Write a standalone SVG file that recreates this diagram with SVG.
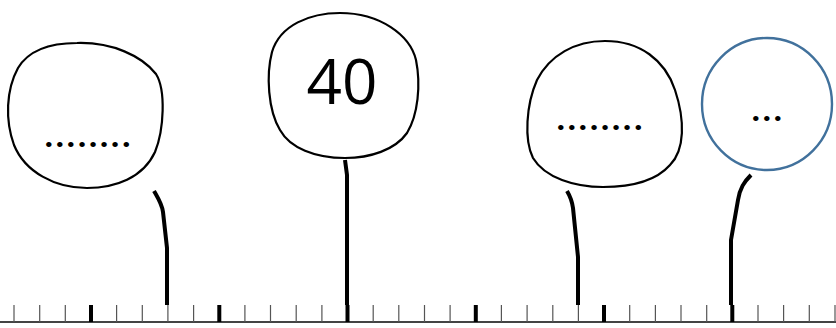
<svg xmlns="http://www.w3.org/2000/svg" width="836" height="328" viewBox="0 0 836 328">
<defs>
<style>
.bal{fill:none;stroke:#000;stroke-width:2.2;stroke-linejoin:round}
.blue{fill:none;stroke:#41719C;stroke-width:2.4}
.stem{fill:none;stroke:#000;stroke-width:4;stroke-linecap:butt;stroke-linejoin:round}
.dots{font-family:Roboto,"Liberation Sans",Arial,sans-serif;font-weight:bold;font-size:34px;fill:#000;letter-spacing:1.2px}
.num{font-family:"Open Sans","Liberation Sans",sans-serif;font-size:62px;fill:#000}
.tick{stroke:#555;stroke-width:1.2}
.tickb{stroke:#000;stroke-width:4}
</style>
</defs>
<rect width="836" height="328" fill="#fff"/>
<g id="axis">
<line x1="0" y1="322" x2="836" y2="322" stroke="#444" stroke-width="1.8"/>
<g class="tick">
<line x1="14" y1="305" x2="14" y2="322"/><line x1="39.7" y1="305" x2="39.7" y2="322"/><line x1="65.3" y1="305" x2="65.3" y2="322"/>
<line x1="116.6" y1="305" x2="116.6" y2="322"/><line x1="142.3" y1="305" x2="142.3" y2="322"/><line x1="167.9" y1="305" x2="167.9" y2="322"/><line x1="193.6" y1="305" x2="193.6" y2="322"/>
<line x1="244.9" y1="305" x2="244.9" y2="322"/><line x1="270.5" y1="305" x2="270.5" y2="322"/><line x1="296.2" y1="305" x2="296.2" y2="322"/><line x1="321.9" y1="305" x2="321.9" y2="322"/>
<line x1="373.2" y1="305" x2="373.2" y2="322"/><line x1="398.8" y1="305" x2="398.8" y2="322"/><line x1="424.5" y1="305" x2="424.5" y2="322"/><line x1="450.1" y1="305" x2="450.1" y2="322"/>
<line x1="501.4" y1="305" x2="501.4" y2="322"/><line x1="527.1" y1="305" x2="527.1" y2="322"/><line x1="552.8" y1="305" x2="552.8" y2="322"/><line x1="578.4" y1="305" x2="578.4" y2="322"/>
<line x1="629.7" y1="305" x2="629.7" y2="322"/><line x1="655.4" y1="305" x2="655.4" y2="322"/><line x1="681" y1="305" x2="681" y2="322"/><line x1="706.7" y1="305" x2="706.7" y2="322"/>
<line x1="758" y1="305" x2="758" y2="322"/><line x1="783.6" y1="305" x2="783.6" y2="322"/><line x1="809.3" y1="305" x2="809.3" y2="322"/><line x1="835" y1="305" x2="835" y2="322"/>
</g>
<g class="tickb">
<line x1="91" y1="305" x2="91" y2="322"/><line x1="219.3" y1="305" x2="219.3" y2="322"/><line x1="347.5" y1="305" x2="347.5" y2="322"/>
<line x1="475.8" y1="305" x2="475.8" y2="322"/><line x1="604" y1="305" x2="604" y2="322"/><line x1="732.3" y1="305" x2="732.3" y2="322"/>
</g>
</g>
<g id="connectors">
<path class="stem" d="M154,191 C158,198 162,204 163,212 L167,248 L167,305"/>
<path class="stem" d="M345,160 L347,175 L347,305"/>
<path class="stem" d="M567,191 C570,196 572,201 573,208 L578,257 L578,305"/>
<path class="stem" d="M751,175 C744,182 740,188 738,200 L731,240 L731,305"/>
</g>
<g id="node1">
<path class="bal" d="M77,43 C112,42 142,56 156,74 C166,90 164,130 155,152 C143,178 115,188 87,188 C55,188 25,172 14,145 C5,120 6,90 18,68 C30,48 55,43 77,43 Z"/>
<text class="dots" x="44" y="147">........</text>
</g>
<g id="node2">
<path class="bal" d="M340,13 C380,13 410,35 416,60 C421,85 418,115 407,133 C395,150 370,158 345,158 C315,158 290,148 280,130 C268,110 266,75 272,52 C280,25 310,13 340,13 Z"/>
<text class="num" x="342" y="104" text-anchor="middle">40</text>
</g>
<g id="node3">
<path class="bal" d="M605,41 C640,41 665,60 675,90 C685,120 685,150 670,165 C655,182 630,187 603,187 C575,187 545,178 533,158 C524,140 526,105 537,80 C550,55 575,41 605,41 Z"/>
<text class="dots" x="556" y="130">........</text>
</g>
<g id="node4">
<ellipse class="blue" cx="767" cy="104" rx="65" ry="66"/>
<text class="dots" x="751" y="121">...</text>
</g>
</svg>
